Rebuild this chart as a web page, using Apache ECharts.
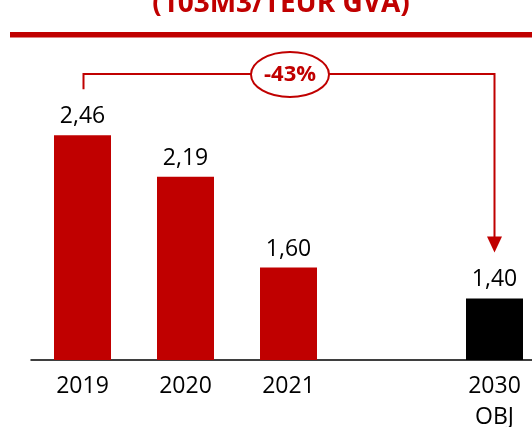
<!DOCTYPE html>
<html><head><meta charset="utf-8">
<script src="https://cdn.jsdelivr.net/npm/echarts@6/dist/echarts.min.js"></script>
<style>html,body{margin:0;padding:0;background:#fff;overflow:hidden}#c{width:532px;height:427px}</style>
</head><body><div id="c"></div>
<script>
const categories = ['2019', '2020', '2021', '', '2030\nOBJ'];
const values = [2.46, 2.19, 1.60, null, 1.40];
const barColors = ['#C00000', '#C00000', '#C00000', '#C00000', '#000000'];
const titleText = '(103M3/TEUR GVA)';
const changeLabel = '-43%';

const FONT = 'Open Sans';
const RED = '#C00000';
const chart = echarts.init(document.getElementById('c'), null, {renderer: 'canvas'});
chart.setOption({
  animation: false,
  grid: {left: 31, width: 515, top: 52, height: 308, containLabel: false, outerBoundsMode: 'none'},
  xAxis: {
    type: 'category', data: categories,
    axisTick: {show: false},
    axisLine: {lineStyle: {color: '#000', width: 1.5}},
    axisLabel: {color: '#000', fontFamily: FONT, fontSize: 23, margin: 11, lineHeight: 31, interval: 0}
  },
  yAxis: {type: 'value', min: 1, max: 3, show: false, splitLine: {show: false}},
  series: [{
    type: 'bar', barWidth: 57,
    data: values.map((v, i) => ({value: v, itemStyle: {color: barColors[i]}})),
    label: {
      show: true, position: 'top', distance: 7, color: '#000', fontFamily: FONT, fontSize: 23,
      formatter: p => p.value == null ? '' : p.value.toFixed(2).replace('.', ',')
    }
  }]
});

const p0 = chart.convertToPixel({gridIndex: 0}, [0, values[0]]);
const p4 = chart.convertToPixel({gridIndex: 0}, [4, values[4]]);
const x1 = Math.round(p0[0]) + 0.5, x2 = Math.round(p4[0]) - 0.5;
const yTop = 74;
const yLeftEnd = p0[1] - 46;
const yTip = p4[1] - 46;
const headH = 16, headW = 7.5;
const cx = (x1 + x2) / 2 + 1;

chart.setOption({
  graphic: [
    {type: 'text', x: 281, y: 4, style: {text: titleText, fill: RED, font: 'bold 28px "Open Sans"', align: 'center', verticalAlign: 'middle'}},
    {type: 'rect', shape: {x: 10, y: 32, width: 522, height: 5.5}, style: {fill: RED}},
    {type: 'polyline', shape: {points: [[x1, yLeftEnd], [x1, yTop], [x2, yTop], [x2, yTip - headH + 2]]}, style: {stroke: RED, lineWidth: 2, fill: null}},
    {type: 'polygon', shape: {points: [[x2 - headW, yTip - headH], [x2 + headW, yTip - headH], [x2, yTip]]}, style: {fill: RED}},
    {type: 'ellipse', shape: {cx: cx, cy: 74.5, rx: 39, ry: 22.5}, style: {fill: '#fff', stroke: RED, lineWidth: 2}},
    {type: 'text', x: cx, y: 75, style: {text: changeLabel, fill: RED, font: 'bold 22px "Open Sans"', align: 'center', verticalAlign: 'middle'}}
  ]
});
</script></body></html>
